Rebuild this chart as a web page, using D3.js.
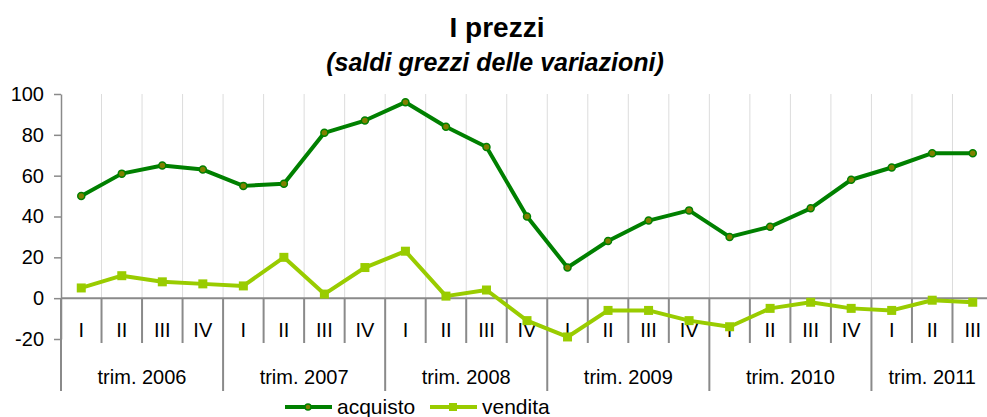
<!DOCTYPE html>
<html>
<head>
<meta charset="utf-8">
<script src="https://cdn.jsdelivr.net/npm/d3@7"></script>
<style>
  html, body { margin: 0; padding: 0; background: #fff; }
  svg { display: block; font-family: "Liberation Sans", Arial, sans-serif; }
</style>
</head>
<body>
<div id="chart"></div>
<script>
// categorie: trimestri raggruppati per anno
const years = ['trim. 2006', 'trim. 2007', 'trim. 2008', 'trim. 2009', 'trim. 2010', 'trim. 2011'];
const quartersPerYear = [4, 4, 4, 4, 4, 3];
const quarterNames = ['I', 'II', 'III', 'IV'];

// serie
const acquisto = [50, 61, 65, 63, 55, 56, 81, 87, 96, 84, 74, 40, 15, 28, 38, 43, 30, 35, 44, 58, 64, 71, 71];
const vendita = [5, 11, 8, 7, 6, 20, 2, 15, 23, 1, 4, -11, -19, -6, -6, -11, -14, -5, -2, -5, -6, -1, -2];

const yTicks = [-20, 0, 20, 40, 60, 80, 100];

const width = 987
const height = 417

const COLORS = {
  acquisto: '#008000',
  acquistoMarker: '#808000',
  vendita: '#99cc00',
  axis: '#8a8a8a',
  grid: '#dcdcdc',
  text: '#000000',
}

// build category list
const categories = []
years.forEach((yr, yi) => {
  for (let q = 0; q < quartersPerYear[yi]; q++) categories.push({ year: yi, q: quarterNames[q] })
})
const idx = categories.map((d, i) => i)

const svg = d3.select('#chart').append('svg')
  .attr('width', width)
  .attr('height', height)

const x = d3.scaleBand()
  .domain(idx)
  .range([61, 993])
  .padding(0)

const y = d3.scaleLinear()
  .domain([-20, 100])
  .range([339, 94])

// title
svg.append('text')
  .attr('x', 497)
  .attr('y', 37)
  .attr('text-anchor', 'middle')
  .attr('font-size', 28)
  .attr('font-weight', 'bold')
  .text('I prezzi')

svg.append('text')
  .attr('x', 495)
  .attr('y', 71)
  .attr('text-anchor', 'middle')
  .attr('font-size', 25)
  .attr('font-weight', 'bold')
  .attr('font-style', 'italic')
  .text('(saldi grezzi delle variazioni)')

// vertical grid lines
svg.append('g')
  .selectAll('line')
  .data(idx.slice(1))
  .join('line')
  .attr('x1', d => x(d))
  .attr('x2', d => x(d))
  .attr('y1', y(100))
  .attr('y2', y(0))
  .attr('stroke', COLORS.grid)
  .attr('stroke-width', 1)

// y axis
const yAxis = svg.append('g')
  .attr('transform', `translate(${x(0)},0)`)
  .call(d3.axisLeft(y).tickValues(yTicks).tickSize(7).tickPadding(10).tickSizeOuter(0)
    .tickFormat(d => String(d)))
yAxis.select('.domain').attr('stroke', COLORS.axis).attr('stroke-width', 1.5)
yAxis.selectAll('.tick line').attr('stroke', COLORS.axis).attr('stroke-width', 1.5)
yAxis.selectAll('.tick text')
  .attr('font-size', 20)
  .attr('font-family', '"Liberation Sans", Arial, sans-serif')
  .attr('fill', COLORS.text)

// category axis on zero line
const x0 = y(0)
svg.append('line')
  .attr('x1', x(0))
  .attr('x2', x(idx.length - 1) + x.bandwidth())
  .attr('y1', x0)
  .attr('y2', x0)
  .attr('stroke', COLORS.axis)
  .attr('stroke-width', 2)

// quarter ticks and year separators
const yearStarts = []
let acc = 0
quartersPerYear.forEach(n => { yearStarts.push(acc); acc += n })
const boundaries = idx.concat([idx.length])
const bx = i => (i < idx.length ? x(i) : x(idx.length - 1) + x.bandwidth())

svg.append('g')
  .selectAll('line')
  .data(boundaries)
  .join('line')
  .attr('x1', d => bx(d))
  .attr('x2', d => bx(d))
  .attr('y1', x0)
  .attr('y2', d => (yearStarts.includes(d) || d === idx.length) ? 391 : 343)
  .attr('stroke', COLORS.axis)
  .attr('stroke-width', 2)

// quarter labels
svg.append('g')
  .selectAll('text')
  .data(categories)
  .join('text')
  .attr('x', (d, i) => x(i) + x.bandwidth() / 2)
  .attr('y', 337)
  .attr('text-anchor', 'middle')
  .attr('font-size', 20)
  .text(d => d.q)

// year labels
svg.append('g')
  .selectAll('text')
  .data(years)
  .join('text')
  .attr('x', (d, i) => (bx(yearStarts[i]) + bx(yearStarts[i] + quartersPerYear[i])) / 2)
  .attr('y', 384)
  .attr('text-anchor', 'middle')
  .attr('font-size', 20)
  .text(d => d)

// lines
const line = d3.line()
  .x((d, i) => x(i) + x.bandwidth() / 2)
  .y(d => y(d))

svg.append('path')
  .datum(vendita)
  .attr('d', line)
  .attr('fill', 'none')
  .attr('stroke', COLORS.vendita)
  .attr('stroke-width', 4)
  .attr('stroke-linejoin', 'round')

svg.append('g')
  .selectAll('rect')
  .data(vendita)
  .join('rect')
  .attr('x', (d, i) => x(i) + x.bandwidth() / 2 - 4.5)
  .attr('y', d => y(d) - 4.5)
  .attr('width', 9)
  .attr('height', 9)
  .attr('fill', COLORS.vendita)

svg.append('path')
  .datum(acquisto)
  .attr('d', line)
  .attr('fill', 'none')
  .attr('stroke', COLORS.acquisto)
  .attr('stroke-width', 4)
  .attr('stroke-linejoin', 'round')

svg.append('g')
  .selectAll('circle')
  .data(acquisto)
  .join('circle')
  .attr('cx', (d, i) => x(i) + x.bandwidth() / 2)
  .attr('cy', d => y(d))
  .attr('r', 3.5)
  .attr('fill', COLORS.acquistoMarker)
  .attr('stroke', COLORS.acquisto)
  .attr('stroke-width', 1.5)

// legend
const legend = svg.append('g').attr('transform', 'translate(0,407)')
legend.append('line').attr('x1', 285).attr('x2', 332).attr('y1', 0).attr('y2', 0)
  .attr('stroke', COLORS.acquisto).attr('stroke-width', 4)
legend.append('circle').attr('cx', 308).attr('cy', 0).attr('r', 3)
  .attr('fill', COLORS.acquistoMarker).attr('stroke', COLORS.acquisto).attr('stroke-width', 1.5)
legend.append('text').attr('x', 337).attr('y', 7).attr('font-size', 21).text('acquisto')

legend.append('line').attr('x1', 430).attr('x2', 477).attr('y1', 0).attr('y2', 0)
  .attr('stroke', COLORS.vendita).attr('stroke-width', 4)
legend.append('rect').attr('x', 449).attr('y', -4).attr('width', 8).attr('height', 8)
  .attr('fill', COLORS.vendita)
legend.append('text').attr('x', 482).attr('y', 7).attr('font-size', 21).text('vendita')
</script>
</body>
</html>
